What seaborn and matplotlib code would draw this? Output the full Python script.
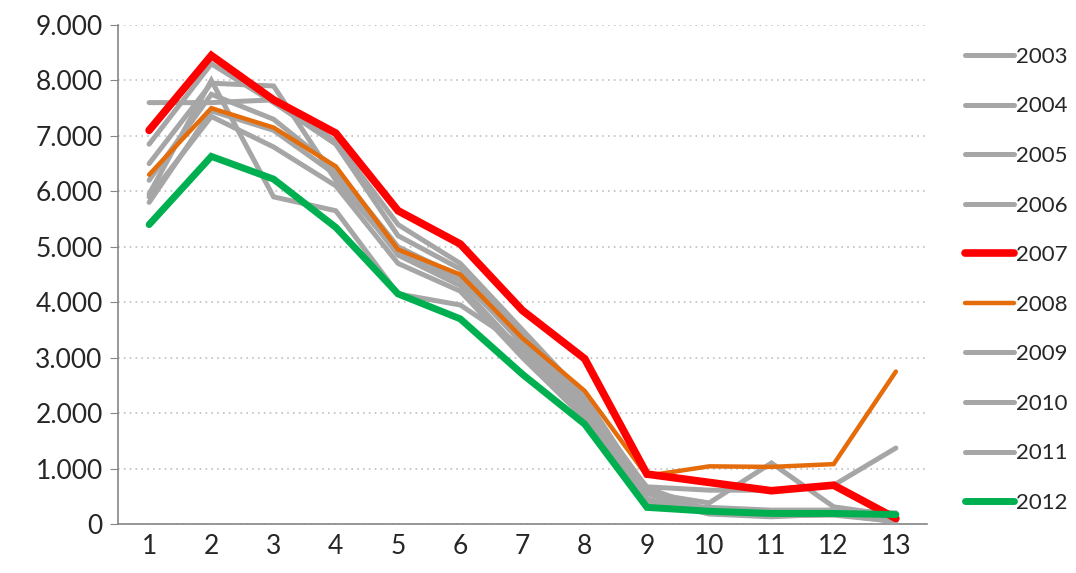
import pandas as pd
import matplotlib
matplotlib.use("Agg")
import matplotlib.pyplot as plt
import matplotlib.ticker as mticker
import seaborn as sns

months = list(range(1, 13 + 1))
years = ["2003", "2004", "2005", "2006", "2007", "2008", "2009", "2010", "2011", "2012"]

v2003 = [7600, 7600, 7650, 6900, 5400, 4700, 3500, 2300, 560, 380, 1100, 310, 150]
v2004 = [6850, 8300, 7600, 6850, 5200, 4600, 3400, 2200, 550, 200, 150, 200, 100]
v2005 = [6500, 7950, 7900, 6200, 4900, 4400, 3300, 2100, 450, 180, 130, 180, 40]
v2006 = [5950, 8000, 5900, 5650, 4150, 3950, 3200, 2000, 400, 200, 150, 160, 50]
v2007 = [7100, 8450, 7650, 7050, 5650, 5050, 3850, 2980, 900, 750, 600, 700, 100]
v2008 = [6300, 7500, 7150, 6450, 4950, 4500, 3350, 2400, 870, 1040, 1030, 1080, 2750]
v2009 = [5800, 7450, 7100, 6300, 4850, 4300, 3100, 2000, 670, 610, 610, 700, 1370]
v2010 = [5900, 7350, 6800, 6100, 4700, 4200, 3000, 1900, 350, 300, 250, 250, 200]
v2011 = [6200, 7750, 7300, 6400, 5000, 4450, 3250, 2200, 650, 250, 200, 250, 150]
v2012 = [5400, 6630, 6220, 5350, 4150, 3700, 2700, 1800, 300, 230, 190, 190, 170]

values = [v2003, v2004, v2005, v2006, v2007, v2008, v2009, v2010, v2011, v2012]

gray = "#a6a6a6"
colors = {"2007": "#ff0000", "2008": "#e46c0a", "2012": "#00b050"}
widths = {"2007": 5.5, "2008": 3.2, "2012": 5.0}
order = {"2008": 5, "2007": 6, "2012": 7}

df = pd.DataFrame({"month": months * len(years),
                   "year": [y for y in years for _ in months],
                   "value": [v for vals in values for v in vals]})

sns.set_style("white")
plt.rcParams["font.family"] = ["Lato", "DejaVu Sans"]

fig = plt.figure(figsize=(10.76, 5.73), dpi=100)
ax = fig.add_axes([118 / 1076, 49 / 573, (927 - 118) / 1076, (524 - 25) / 573])

for y in years:
    sub = df[df["year"] == y]
    sns.lineplot(data=sub, x="month", y="value", ax=ax,
                 color=colors.get(y, gray), linewidth=widths.get(y, 3.6),
                 label=y, zorder=order.get(y, 3),
                 solid_capstyle="round", solid_joinstyle="miter")

ax.set_xlim(0.5, 13.5)
ax.set_ylim(0, 9000)
ax.set_xticks(months)
ax.set_xticks([m + 0.5 for m in range(0, 14)], minor=True)
ax.set_yticks(range(0, 9001, 1000))
ax.yaxis.set_major_formatter(mticker.FuncFormatter(lambda v, p: f"{int(v):,}".replace(",", ".")))
ax.tick_params(axis="x", which="major", length=0, labelsize=19, pad=7)
ax.tick_params(axis="x", which="minor", length=7, color="#868686", direction="out")
ax.tick_params(axis="y", length=6, color="#868686", direction="out", labelsize=19, left=True, pad=5)
ax.grid(axis="y", linestyle=(0, (1, 2.5)), color="#bfbfbf", linewidth=1.2)
ax.set_axisbelow(True)
ax.set_xlabel("")
ax.set_ylabel("")
for s in ["top", "right"]:
    ax.spines[s].set_visible(False)
for s in ["left", "bottom"]:
    ax.spines[s].set_color("#868686")
    ax.spines[s].set_linewidth(1.2)

handles, labels = ax.get_legend_handles_labels()
ax.get_legend().remove()
fig.legend(handles, labels, loc="upper left", bbox_to_anchor=(956 / 1076, 1 - 38 / 573),
           frameon=False, fontsize=16, handlelength=2.2, handletextpad=0.1,
           labelspacing=1.33, borderaxespad=0)

fig.savefig("out.png", dpi=100)
